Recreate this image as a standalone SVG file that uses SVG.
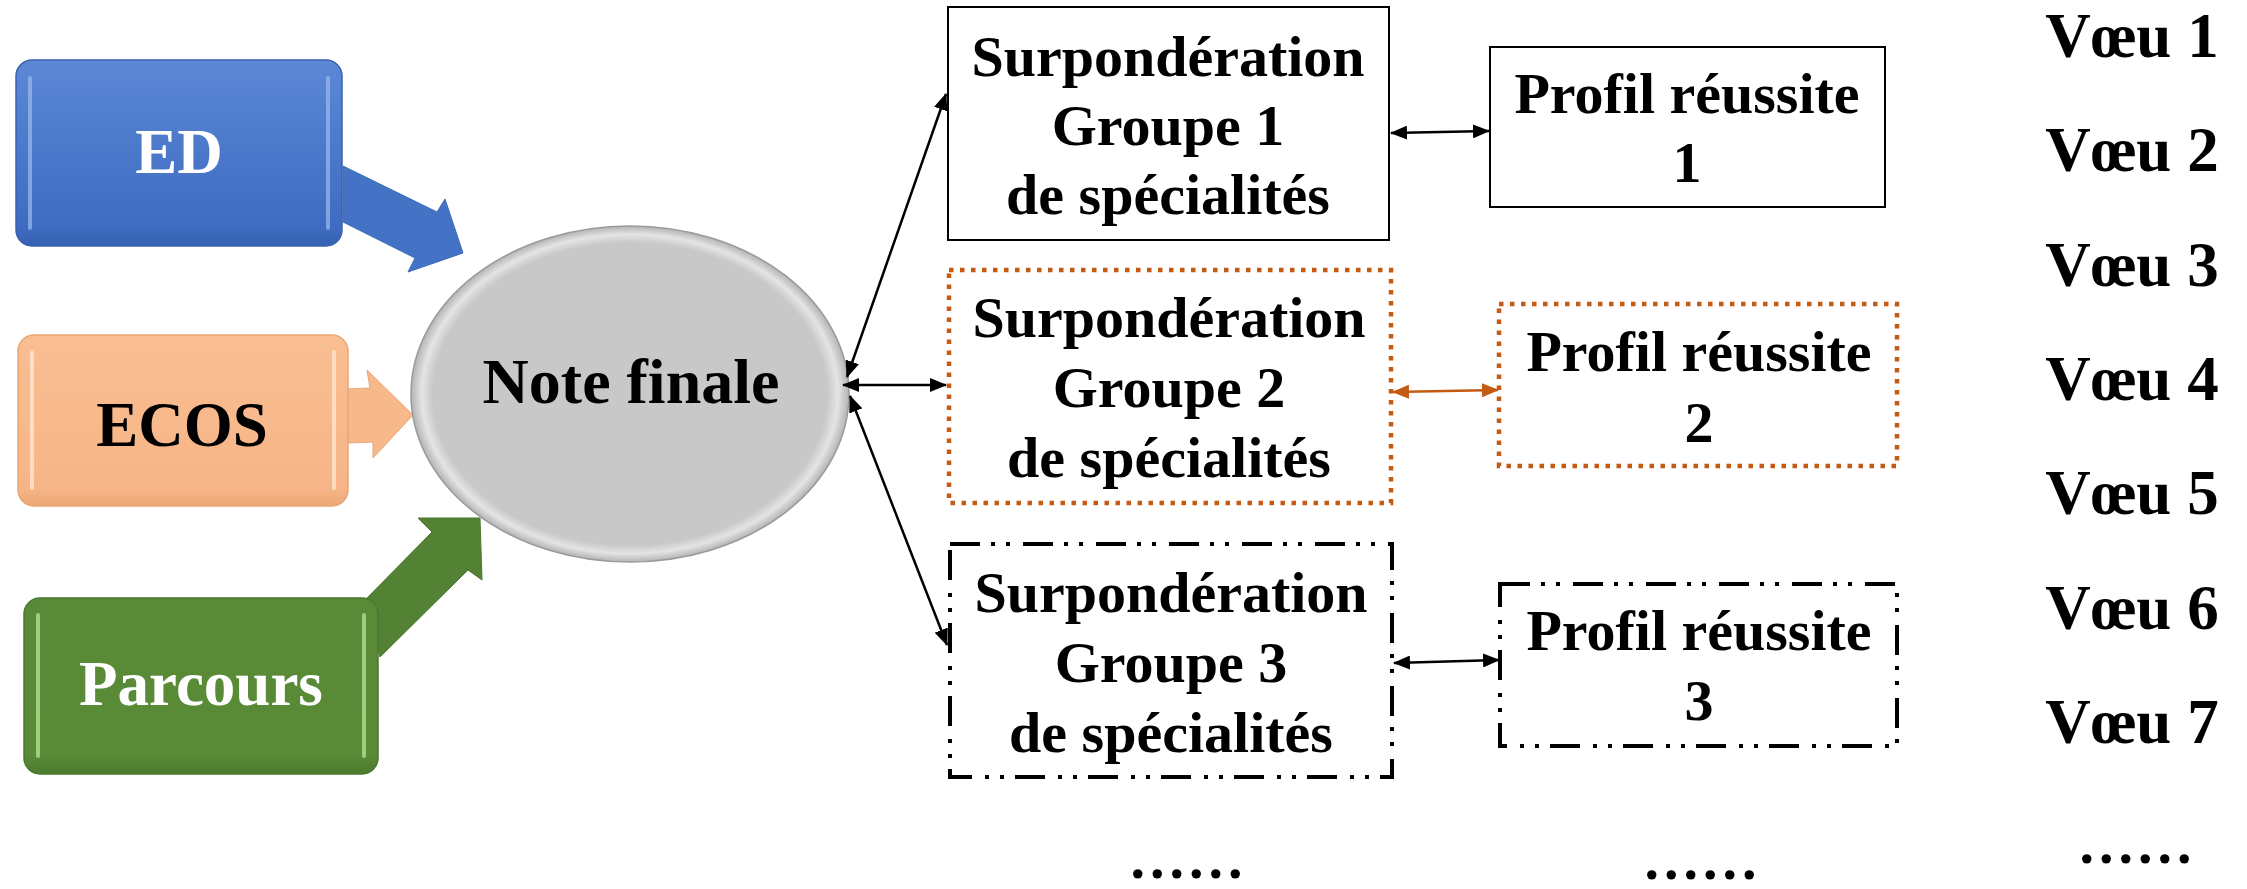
<svg xmlns="http://www.w3.org/2000/svg" width="2247" height="889" viewBox="0 0 2247 889">
<style>
text{font-family:"Liberation Serif","DejaVu Serif",serif;font-weight:bold;text-anchor:middle;fill:#000}
.box{font-size:58px}
.big{font-size:63px}
.wh{fill:#fff}
.plain{fill:#fff;stroke:#000;stroke-width:2}
.dot{fill:#fff;stroke:#C55A11;stroke-width:4.5;stroke-dasharray:4.5 6.5}
.dd{fill:#fff;stroke:#000;stroke-width:4;stroke-dasharray:30 11 4 11 4 13}
.con{stroke:#000;stroke-width:2.5;fill:none;marker-start:url(#ah);marker-end:url(#ah)}
.cono{stroke:#C55A11;stroke-width:2.5;fill:none;marker-start:url(#aho);marker-end:url(#aho)}
.dots{font-size:58px;letter-spacing:5px}
.hl{fill:none;stroke-width:4;stroke-linecap:round}
</style>
<defs>
<marker id="ah" markerUnits="userSpaceOnUse" markerWidth="18" markerHeight="14" refX="16" refY="7" orient="auto-start-reverse"><path d="M0,0 L17,7 L0,14 z" fill="#000"/></marker>
<marker id="aho" markerUnits="userSpaceOnUse" markerWidth="18" markerHeight="14" refX="16" refY="7" orient="auto-start-reverse"><path d="M0,0 L17,7 L0,14 z" fill="#C55A11"/></marker>
<linearGradient id="gBlue" x1="0" y1="0" x2="0" y2="1"><stop offset="0" stop-color="#5C88D6"/><stop offset="0.9" stop-color="#3F6BC2"/><stop offset="1" stop-color="#3661B0"/></linearGradient>
<linearGradient id="gOrange" x1="0" y1="0" x2="0" y2="1"><stop offset="0" stop-color="#F9BE92"/><stop offset="0.9" stop-color="#F7B587"/><stop offset="1" stop-color="#EDA676"/></linearGradient>
<linearGradient id="gGreen" x1="0" y1="0" x2="0" y2="1"><stop offset="0" stop-color="#5A8A37"/><stop offset="0.9" stop-color="#598A36"/><stop offset="1" stop-color="#4C7A2E"/></linearGradient>
<radialGradient id="gGrey" cx="0.5" cy="0.5" r="0.5"><stop offset="0.9" stop-color="#C8C8C8"/><stop offset="0.95" stop-color="#E4E4E4"/><stop offset="1" stop-color="#B4B4B4"/></radialGradient>
</defs>

<g id="arrows-in">
<polygon points="343,166 437,212 445,199 463,253 408,272 415,258 343,222" fill="#4472C4" stroke="#3E6AB8" stroke-width="1"/>
<polygon points="348,389 370,388 367,370 413,415 373,458 373,442 348,443" fill="#F8B98A" stroke="#EAA577" stroke-width="1"/>
<polygon points="367,598 432,532 418,518 480,518 482,580 468,570 380,657" fill="#548235" stroke="#4B7630" stroke-width="1"/>
</g>

<g id="ED">
<rect x="16" y="60" width="326" height="186" rx="16" fill="url(#gBlue)" stroke="#3A62AE" stroke-width="1.5"/>
<path d="M30,78 V228 M328,78 V228" class="hl" stroke="#9DBBF0" opacity="0.7"/>
<text class="big wh" x="179" y="173">ED</text>
</g>

<g id="ECOS">
<rect x="18" y="335" width="330" height="171" rx="16" fill="url(#gOrange)" stroke="#E9A676" stroke-width="1.5"/>
<path d="M32,352 V488 M334,352 V488" class="hl" stroke="#FFE6CF" opacity="0.8"/>
<text class="big" x="182" y="446">ECOS</text>
</g>

<g id="Parcours">
<rect x="24" y="598" width="354" height="176" rx="16" fill="url(#gGreen)" stroke="#4A7830" stroke-width="1.5"/>
<path d="M38,615 V756 M364,615 V756" class="hl" stroke="#B5E29A" opacity="0.75"/>
<text class="big wh" x="201" y="705">Parcours</text>
</g>

<g id="NoteFinale">
<ellipse cx="630" cy="394" rx="219" ry="168" fill="url(#gGrey)" stroke="#9A9A9A" stroke-width="1.5"/>
<text x="631" y="403" style="font-size:64px">Note finale</text>
</g>

<g id="G1">
<rect x="948" y="7" width="441" height="233" class="plain"/>
<text class="box" x="1168" y="76">Surpondération</text>
<text class="box" x="1168" y="145">Groupe 1</text>
<text class="box" x="1168" y="214">de spécialités</text>
</g>

<g id="G2">
<rect x="949" y="270" width="442" height="233" class="dot"/>
<text class="box" x="1169" y="337">Surpondération</text>
<text class="box" x="1169" y="407">Groupe 2</text>
<text class="box" x="1169" y="477">de spécialités</text>
</g>

<g id="G3">
<rect x="950" y="544" width="442" height="233" class="dd"/>
<text class="box" x="1171" y="612">Surpondération</text>
<text class="box" x="1171" y="682">Groupe 3</text>
<text class="box" x="1171" y="752">de spécialités</text>
</g>

<g id="P1">
<rect x="1490" y="47" width="395" height="160" class="plain"/>
<text class="box" x="1687" y="113">Profil réussite</text>
<text class="box" x="1687" y="182">1</text>
</g>

<g id="P2">
<rect x="1499" y="304" width="398" height="162" class="dot"/>
<text class="box" x="1699" y="371">Profil réussite</text>
<text class="box" x="1699" y="442">2</text>
</g>

<g id="P3">
<rect x="1500" y="584" width="397" height="162" class="dd"/>
<text class="box" x="1699" y="650">Profil réussite</text>
<text class="box" x="1699" y="720">3</text>
</g>

<g id="connectors">
<line x1="847" y1="377" x2="946" y2="94" class="con"/>
<line x1="843" y1="385" x2="946" y2="385" class="con"/>
<line x1="850" y1="396" x2="947" y2="645" class="con"/>
<line x1="1391" y1="133" x2="1489" y2="131" class="con"/>
<line x1="1393" y1="392" x2="1498" y2="390" class="cono"/>
<line x1="1394" y1="663" x2="1499" y2="660" class="con"/>
</g>

<g id="voeux">
<text class="big" x="2132" y="57">Vœu 1</text>
<text class="big" x="2132" y="171">Vœu 2</text>
<text class="big" x="2132" y="286">Vœu 3</text>
<text class="big" x="2132" y="400">Vœu 4</text>
<text class="big" x="2132" y="514">Vœu 5</text>
<text class="big" x="2132" y="629">Vœu 6</text>
<text class="big" x="2132" y="743">Vœu 7</text>
</g>

<g id="ellipses">
<text class="dots" x="1189" y="878">......</text>
<text class="dots" x="1703" y="879">......</text>
<text class="dots" x="2138" y="863">......</text>
</g>
</svg>
